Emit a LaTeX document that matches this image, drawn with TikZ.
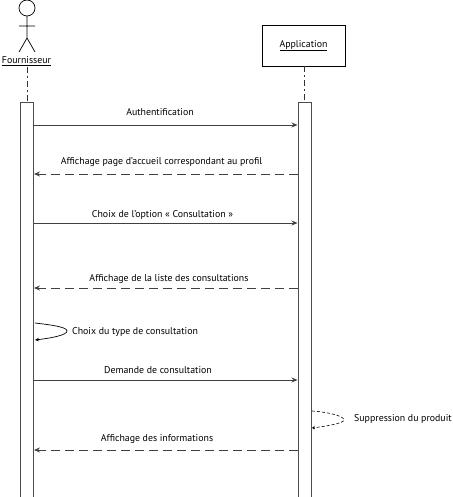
\documentclass[tikz,border=0pt]{standalone}
\usepackage{fontspec}
\setmainfont{PT Sans}
\usetikzlibrary{arrows.meta,positioning,calc}
\tikzset{
  call/.style={draw=black!75,line width=0.8pt,-{Stealth[length=6pt,width=5pt,inset=2pt]}},
  answer/.style={call,dash pattern=on 9pt off 5pt},
  lifeline/.style={draw=black!80,line width=0.8pt,dash pattern=on 6pt off 3pt on 2pt off 3pt},
  bar/.style={draw=black!70,line width=1pt,fill=white,minimum width=13pt,inner sep=0pt},
  msg/.style={inner sep=0pt,font=\fontsize{9.85}{11}\selectfont},
}
\begin{document}
\begin{tikzpicture}[x=1pt,y=1pt]
  \useasboundingbox (0,0) rectangle (452,-497);
  \clip (0,0) rectangle (452,-497);
  \fill[white] (0,0) rectangle (452,-497);
  % actor
  \draw[line width=0.7pt] (27,-8) circle (8pt);
  \draw[line width=0.7pt] (27,-16) -- (27,-38) (19,-26) -- (35,-26)
    (19,-52) -- (27,-38) -- (35,-52);
  \node[msg] (fournisseur) at (26.5,-61.5) {\underline{Fournisseur}};
  % application box
  \node[draw,line width=0.9pt,minimum width=83pt,minimum height=41pt,inner sep=0pt,msg]
    (application) at (303.5,-45.5) {\underline{Application}};
  % activation bars, open at the bottom of the page
  \node[bar,minimum height=410pt,anchor=north] (barF) at (27,-102) {};
  \node[bar,minimum height=410pt,anchor=north] (barA) at (304.5,-102) {};
  % lifelines
  \draw[lifeline] (27,-67) -- (barF.north);
  \draw[lifeline] (application.south -| barA.north) -- (barA.north);
  % message rows
  \coordinate (auth) at (0,-125);
  \coordinate (accueil) at (0,-174);
  \coordinate (choix) at (0,-223);
  \coordinate (liste) at (0,-288);
  \coordinate (demande) at (0,-380);
  \coordinate (infos) at (0,-450);
  \draw[call] (barF.east |- auth) -- (barA.west |- auth);
  \draw[answer] (barA.west |- accueil) -- (barF.east |- accueil);
  \draw[call] (barF.east |- choix) -- (barA.west |- choix);
  \draw[answer] (barA.west |- liste) -- (barF.east |- liste);
  \draw[call] (barF.east |- demande) -- (barA.west |- demande);
  \draw[answer,line width=0.7pt] (barA.west |- infos) -- (barF.east |- infos);
  % message labels
  \node[msg] (authlabel) at (160,-112) {Authentification};
  \node[msg] (accueillabel) at (161.5,-162) {Affichage page d’accueil correspondant au profil};
  \node[msg] (choixlabel) at (162.5,-215) {Choix de l’option « Consultation »};
  \node[msg] (listelabel) at (169,-279) {Affichage de la liste des consultations};
  \node[msg] (demandelabel) at (158,-370) {Demande de consultation};
  \node[msg] (infoslabel) at (157,-439.5) {Affichage des informations};
  % self calls
  \coordinate (loopFa) at (35,-323);
  \coordinate (loopFb) at (35,-340);
  \coordinate (loopAa) at (312,-411);
  \coordinate (loopAb) at (312,-428);
  \draw[call,draw=black,line width=0.7pt,-{Stealth[length=4pt,width=3.5pt]}] (loopFa)
    .. controls (52,-325) and (67,-327) .. (67,-331)
    .. controls (67,-335) and (52,-338) .. (loopFb);
  \node[msg,anchor=west] (typelabel) at (72,-332) {Choix du type de consultation};
  \draw[black,line width=0.6pt,dash pattern=on 3pt off 2pt,-{Stealth[length=3pt,width=3.5pt]}] (loopAa)
    .. controls (328,-412) and (344,-416) .. (344,-420)
    .. controls (344,-423) and (328,-426) .. (loopAb);
  \node[msg,anchor=west] (suppressionlabel) at (354,-419) {Suppression du produit};
\end{tikzpicture}
\end{document}
